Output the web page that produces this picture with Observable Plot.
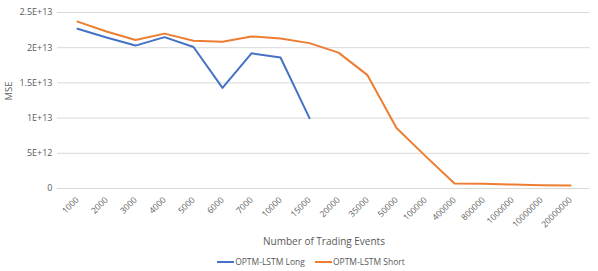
<!DOCTYPE html>
<html><head><meta charset="utf-8">
<script src="https://cdn.jsdelivr.net/npm/d3@7"></script>
<script src="https://cdn.jsdelivr.net/npm/@observablehq/plot@0.6"></script>
<style>
body{margin:0;background:#fff;font-family:"Open Sans",sans-serif;}
#legend{display:flex;justify-content:center;gap:10px;font-size:8.5px;color:#595959;height:21px;align-items:flex-start;margin-left:24px;margin-top:6px}
#legend span{display:inline-flex;align-items:center}
#legend i{display:inline-block;width:17px;height:2px;margin-right:1px}
</style></head>
<body><div id="chart"></div>
<div id="legend"><span><i style="background:#4472C4"></i>OPTM-LSTM Long</span><span><i style="background:#ED7D31"></i>OPTM-LSTM Short</span></div>
<script>
const categories = ["1000","2000","3000","4000","5000","6000","7000","10000","15000","20000","35000","50000","100000","400000","800000","1000000","10000000","20000000"];
const longValues = [2.27e13,2.145e13,2.03e13,2.15e13,2.01e13,1.43e13,1.92e13,1.86e13,1.0e13];
const shortValues = [2.37e13,2.23e13,2.11e13,2.2e13,2.1e13,2.085e13,2.16e13,2.13e13,2.065e13,1.93e13,1.61e13,8.6e12,4.6e12,7.1e11,6.7e11,5.7e11,4.7e11,4.3e11];
const yTicks = [0,5e12,1e13,1.5e13,2e13,2.5e13];
const yTickLabels = ["0","5E+12","1E+13","1.5E+13","2E+13","2.5E+13"];
const seriesNames = ["OPTM-LSTM Long","OPTM-LSTM Short"];

const data = [
  ...longValues.map((v,i)=>({cat:categories[i],v,s:seriesNames[0]})),
  ...shortValues.map((v,i)=>({cat:categories[i],v,s:seriesNames[1]}))
];

const chart = Plot.plot({
  width:598, height:250,
  marginTop:12, marginBottom:62, marginLeft:57, marginRight:8,
  style:{fontFamily:"'Open Sans',sans-serif",fontSize:"9px",color:"#595959",background:"#fff"},
  x:{type:"point",domain:categories,padding:0.5,label:null},
  y:{domain:[0,2.5e13],label:null},
  color:{domain:seriesNames,range:["#4472C4","#ED7D31"]},
  marks:[
    Plot.gridY(yTicks,{stroke:"#D9D9D9",strokeOpacity:1,strokeWidth:1}),
    Plot.axisY(yTicks,{tickSize:0,tickPadding:5,tickFormat:(d)=>yTickLabels[yTicks.indexOf(d)],fill:"#595959",fontSize:9,label:null}),
    Plot.axisX({tickSize:0,tickRotate:-45,tickPadding:10,fill:"#595959",fontSize:8.5,label:null}),
    Plot.text(["MSE"],{frameAnchor:"left",dx:-49,rotate:-90,fill:"#595959",fontSize:9.5}),
    Plot.text(["Number of Trading Events"],{frameAnchor:"bottom",dy:56,fill:"#595959",fontSize:10}),
    Plot.line(data,{x:"cat",y:"v",z:"s",stroke:"s",strokeWidth:2,strokeLinejoin:"round"})
  ]
});
document.getElementById("chart").appendChild(chart);
</script></body></html>
